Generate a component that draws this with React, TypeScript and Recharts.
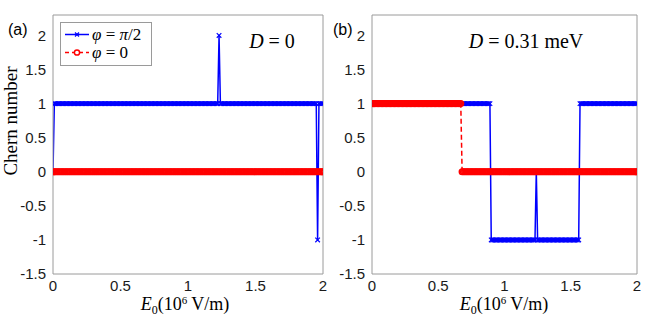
import { LineChart, Line, XAxis, YAxis } from "recharts";

// E0 axis (10^6 V/m) and Chern number axis
const E_TICKS = [0, 0.5, 1, 1.5, 2];
const CHERN_TICKS = [-1.5, -1, -0.5, 0, 0.5, 1, 1.5, 2];
const E_STEP = 0.01;

// Chern number, as runs along the E0 grid: [value, samples]
const phiHalfNoD: [number, number][] = [[0, 1], [1, 122], [2, 1], [1, 72], [-1, 1], [1, 4]];
const phiZeroNoD: [number, number][] = [[0, 201]];
const phiHalfD: [number, number][] = [[1, 90], [-1, 34], [0, 1], [-1, 32], [1, 44]];
const phiZeroD: [number, number][] = [[1, 68], [0, 133]];

const BLUE = "#0000ff";
const RED = "#ff0000";
const AXIS = "#9a9a9a";
const SERIF = "'Liberation Serif', serif";
const SANS = "'Liberation Sans', Arial, sans-serif";

function expand(runs: [number, number][]) {
  return runs.flatMap(([v, n]) => Array(n).fill(v));
}

function buildRows(blueRuns: [number, number][], redRuns: [number, number][]) {
  const blue = expand(blueRuns);
  const red = expand(redRuns);
  return blue.map((b, i) => ({ e: +(i * E_STEP).toFixed(2), blue: b, red: red[i] }));
}

const rowsA = buildRows(phiHalfNoD, phiZeroNoD);
const rowsB = buildRows(phiHalfD, phiZeroD);

const Cross = (p: any) => {
  const { cx, cy, index } = p;
  if (cx == null || cy == null) return <g key={index} />;
  const s = 2.3;
  return (
    <path key={index} d={`M${cx - s},${cy - s}L${cx + s},${cy + s}M${cx - s},${cy + s}L${cx + s},${cy - s}`}
      stroke={BLUE} strokeWidth={1.2} fill="none" />
  );
};

const Ring = (p: any) => {
  const { cx, cy, index } = p;
  if (cx == null || cy == null) return <g key={index} />;
  return <circle key={index} cx={cx} cy={cy} r={2.8} stroke={RED} strokeWidth={1.5} fill="none" />;
};

function Panel({ rows, left, width, yAxisWidth, marginRight }: {
  rows: { e: number; blue: number; red: number }[];
  left: number; width: number; yAxisWidth: number; marginRight: number;
}) {
  const tickStyle = { fill: "#1a1a1a", fontSize: 15, fontFamily: SANS };
  return (
    <div style={{ position: "absolute", left, top: 0 }}>
      <LineChart width={width} height={316} data={rows} margin={{ top: 15, right: marginRight, bottom: 12, left: 8 }}>
        <XAxis dataKey="e" type="number" domain={[0, 2]} ticks={E_TICKS} allowDataOverflow fontSize={15}
          stroke={AXIS} tickLine={false} tickSize={0} tickMargin={6} height={30} tick={tickStyle} />
        <XAxis xAxisId="top" orientation="top" mirror dataKey="e" type="number" domain={[0, 2]} ticks={E_TICKS}
          allowDataOverflow stroke={AXIS} tick={false} tickSize={3} />
        <XAxis xAxisId="bottomIn" orientation="bottom" mirror dataKey="e" type="number" domain={[0, 2]} ticks={E_TICKS}
          allowDataOverflow stroke={AXIS} axisLine={false} tick={false} tickSize={3} />
        <YAxis type="number" domain={[-1.5, 2.3]} ticks={CHERN_TICKS} allowDataOverflow width={yAxisWidth} fontSize={15}
          stroke={AXIS} tickLine={false} tickSize={0} tickMargin={7} tick={tickStyle} />
        <YAxis yAxisId="leftIn" orientation="left" mirror type="number" domain={[-1.5, 2.3]} ticks={CHERN_TICKS}
          allowDataOverflow stroke={AXIS} axisLine={false} tick={false} tickSize={3} />
        <YAxis yAxisId="right" orientation="right" mirror type="number" domain={[-1.5, 2.3]} ticks={CHERN_TICKS}
          allowDataOverflow stroke={AXIS} tick={false} tickSize={3} />
        <Line dataKey="blue" name="φ = π/2" stroke={BLUE} strokeWidth={1.5} dot={Cross} activeDot={false}
          isAnimationActive={false} />
        <Line dataKey="red" name="φ = 0" stroke={RED} strokeWidth={1.5} strokeDasharray="5 3" dot={Ring}
          activeDot={false} isAnimationActive={false} />
      </LineChart>
    </div>
  );
}

function LegendBox({ x, y }: { x: number; y: number }) {
  return (
    <g transform={`translate(${x},${y})`}>
      <rect x={0.5} y={0.5} width={91} height={43} fill="#fff" stroke={AXIS} />
      <line x1={5} y1={12.5} x2={29} y2={12.5} stroke={BLUE} strokeWidth={1.5} />
      <path d="M15,10.5L19,14.5M15,14.5L19,10.5" stroke={BLUE} strokeWidth={1.2} />
      <text x={32} y={18} fontFamily={SERIF} fontSize={17} fill="#000">
        <tspan fontStyle="italic">φ</tspan> = <tspan fontStyle="italic">π</tspan>/2
      </text>
      <line x1={5} y1={30.5} x2={29} y2={30.5} stroke={RED} strokeWidth={1.5} strokeDasharray="4 3" />
      <circle cx={17} cy={30.5} r={2.6} stroke={RED} strokeWidth={1.5} fill="#fff" />
      <text x={32} y={36} fontFamily={SERIF} fontSize={17} fill="#000">
        <tspan fontStyle="italic">φ</tspan> = 0
      </text>
    </g>
  );
}

function XLabel({ cx }: { cx: number }) {
  return (
    <text x={cx} y={310} textAnchor="middle" fontFamily={SERIF} fontSize={18} fill="#000">
      <tspan fontStyle="italic">E</tspan>
      <tspan fontSize={12} dy={4}>0</tspan>
      <tspan dy={-4}>(10</tspan>
      <tspan fontSize={11} dy={-6}>6</tspan>
      <tspan dy={6}> V/m)</tspan>
    </text>
  );
}

export default function App() {
  return (
    <div style={{ position: "absolute", left: 0, top: 0, width: 664, height: 316, background: "#fff" }}>
      <Panel rows={rowsA} left={0} width={332} yAxisWidth={45} marginRight={9} />
      <Panel rows={rowsB} left={332} width={332} yAxisWidth={32} marginRight={27} />
      <svg width={664} height={316} style={{ position: "absolute", left: 0, top: 0, pointerEvents: "none" }}>
        <LegendBox x={60} y={22} />
        <text x={8} y={35} fontFamily={SANS} fontSize={16} fill="#000">(a)</text>
        <text x={333} y={35} fontFamily={SANS} fontSize={16} fill="#000">(b)</text>
        <text x={0} y={0} transform="translate(17,121) rotate(-90)" textAnchor="middle" fontFamily={SERIF}
          fontSize={19} fill="#000">Chern number</text>
        <XLabel cx={185} />
        <XLabel cx={504} />
        <text x={272} y={48} textAnchor="middle" fontFamily={SERIF} fontSize={20} fill="#000">
          <tspan fontStyle="italic">D</tspan> = 0
        </text>
        <text x={526} y={48} textAnchor="middle" fontFamily={SERIF} fontSize={20} fill="#000">
          <tspan fontStyle="italic">D</tspan> = 0.31 meV
        </text>
      </svg>
    </div>
  );
}
